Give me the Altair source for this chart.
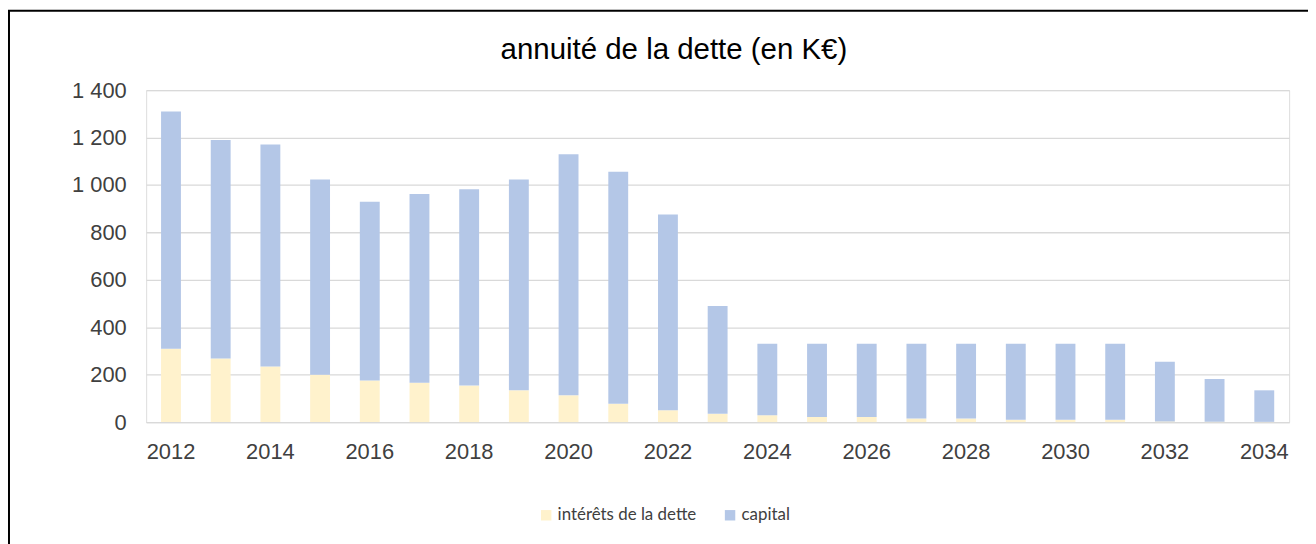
import altair as alt
import pandas as pd

years = list(range(2012, 2035))
interets = [309, 268, 235, 200, 175, 166, 154, 134, 113, 77, 50, 35, 29,
            22, 22, 15, 15, 10, 10, 10, 3, 2, 1]
capital = [1001, 922, 936, 823, 754, 796, 828, 889, 1017, 979, 826, 455, 301,
           308, 308, 315, 315, 320, 320, 320, 252, 180, 133]
series_names = ["intérêts de la dette", "capital"]
series_colors = ["#FFF2CC", "#B4C7E7"]
y_ticks = [0, 200, 400, 600, 800, 1000, 1200, 1400]
x_labels = list(range(2012, 2035, 2))

rows = []
for i, y in enumerate(years):
    rows.append({"annee": y, "serie": series_names[0], "valeur": interets[i], "ordre": 0})
    rows.append({"annee": y, "serie": series_names[1], "valeur": capital[i], "ordre": 1})
df = pd.DataFrame(rows)

W, H = 1150, 334

bars = alt.Chart(df).mark_bar().encode(
    x=alt.X("annee:O",
            scale=alt.Scale(paddingInner=0.6, paddingOuter=0.3),
            axis=alt.Axis(values=x_labels, labelAngle=0, ticks=False, title=None,
                          domain=True, domainColor="#d9d9d9", domainWidth=1.3,
                          labelFont="Liberation Sans", labelFontSize=22,
                          labelColor="#404040", labelPadding=20)),
    y=alt.Y("valeur:Q", stack="zero",
            scale=alt.Scale(domain=[0, 1400], nice=False),
            axis=alt.Axis(values=y_ticks,
                          labelExpr="replace(format(datum.value, ',d'), ',', ' ')",
                          grid=True, gridColor="#d9d9d9", gridWidth=1.3,
                          domain=False, ticks=False, title=None,
                          labelFont="Liberation Sans", labelFontSize=22,
                          labelColor="#404040", labelPadding=20)),
    color=alt.Color("serie:N",
                    scale=alt.Scale(domain=series_names, range=series_colors),
                    legend=alt.Legend(orient="none", legendX=394, legendY=419,
                                      direction="horizontal", title=None,
                                      symbolType="square", symbolSize=110,
                                      symbolStrokeWidth=0, padding=0,
                                      labelFont="Lato", labelFontSize=17,
                                      labelColor="#404040", columnPadding=25,
                                      labelOffset=3)),
    order=alt.Order("ordre:Q", sort="ascending"),
)

frame_df = pd.DataFrame({"k": [0]})
vline = alt.Chart(frame_df).mark_rule(color="#000000", strokeWidth=2).encode(
    x=alt.value(-138), y=alt.value(-80), y2=alt.value(470))
hline = alt.Chart(frame_df).mark_rule(color="#000000", strokeWidth=2).encode(
    x=alt.value(-139), x2=alt.value(1200), y=alt.value(-80))

chart = alt.layer(bars, vline, hline).properties(
    width=W, height=H,
    title=alt.TitleParams("annuité de la dette (en K€)", font="Liberation Sans",
                          fontSize=29.6, fontWeight="normal", color="#000000",
                          anchor="middle", dx=-44, offset=-56),
    autosize=alt.AutoSizeParams(type="none"),
    padding={"left": 139, "top": 81, "right": 19, "bottom": 121},
).configure_view(stroke=None).configure(background="#ffffff")

chart.save("out.html", embed_options={"renderer": "svg", "actions": False})
